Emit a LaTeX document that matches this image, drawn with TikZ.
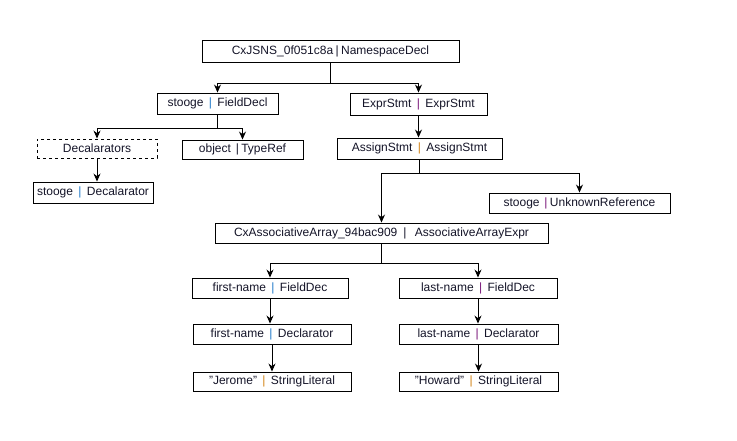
\documentclass[tikz,border=0pt]{standalone}
\usepackage{fontspec}
\setmainfont{Liberation Sans}
\usetikzlibrary{arrows.meta}
\definecolor{barblue}{RGB}{30,120,200}
\definecolor{barorange}{RGB}{210,130,20}
\definecolor{barpurple}{RGB}{120,20,120}
\definecolor{txt}{RGB}{20,20,40}
\begin{document}
\begin{tikzpicture}[x=1pt,y=-1pt,
  box/.style={draw,line width=0.9pt,rectangle,inner sep=0pt,font=\fontsize{12}{14}\selectfont,text=txt},
  dbox/.style={box,dashed},
  conn/.style={line width=0.95pt,-{Stealth[length=8pt,width=7pt]}},
  plain/.style={line width=0.95pt}]
\useasboundingbox (0,0) rectangle (737,441);
\newcommand{\bb}[1]{\hspace{0.45em}\textcolor{#1}{|}\hspace{0.45em}}
\newcommand{\dq}{\symbol{34}}
\node[box,minimum width=257,minimum height=22] (root) at (330.5,51) {CxJSNS\_0f051c8a\hspace{0.2em}|\hspace{0.2em}NamespaceDecl};
\node[box,minimum width=121,minimum height=21] (fd) at (217.5,103.5) {stooge\bb{barblue}FieldDecl};
\node[dbox,minimum width=120,minimum height=19] (dec) at (97,148.5) {Decalarators};
\node[box,minimum width=121,minimum height=19] (tr) at (242.5,149.5) {object\hspace{0.4em}|\hspace{0.2em}TypeRef};
\node[box,minimum width=120,minimum height=21] (sd) at (93,192.5) {stooge\bb{barblue}Decalarator};
\node[box,minimum width=137,minimum height=22] (es) at (418.5,104) {ExprStmt\bb{barpurple}ExprStmt};
\node[box,minimum width=165,minimum height=21] (as) at (419.5,148.5) {AssignStmt\bb{barorange}AssignStmt};
\node[box,minimum width=181,minimum height=20] (ur) at (579.5,203) {stooge\hspace{0.4em}\textcolor{barpurple}{|}\hspace{0.2em}UnknownReference};
\node[box,minimum width=333,minimum height=20] (aa) at (381.5,233) {CxAssociativeArray\_94bac909\hspace{0.5em}|\hspace{0.7em}AssociativeArrayExpr};
\node[box,minimum width=156,minimum height=20] (ffd) at (270,288) {first-name\bb{barblue}FieldDec};
\node[box,minimum width=158,minimum height=20] (lfd) at (478,288) {last-name\bb{barpurple}FieldDec};
\node[box,minimum width=158,minimum height=20] (fdc) at (272,334) {first-name\bb{barblue}Declarator};
\node[box,minimum width=159,minimum height=20] (ldc) at (478.5,334) {last-name\bb{barpurple}Declarator};
\node[box,minimum width=158,minimum height=19] (js) at (272,381.5) {\dq Jerome\dq\bb{barorange}StringLiteral};
\node[box,minimum width=159,minimum height=19] (hs) at (478.5,381.5) {\dq Howard\dq\bb{barorange}StringLiteral};
% root branches
\coordinate (rj) at (root.south |- 0,83);
\draw[plain] (root.south) -- (rj);
\draw[conn] (rj) -| (fd.north);
\draw[conn] (rj) -| (es.north);
% fielddecl branches
\coordinate (fj) at (fd.south |- 0,128);
\draw[plain] (fd.south) -- (fj);
\draw[conn] (fj) -| (dec.north);
\draw[conn] (fj) -| (tr.north);
\draw[conn] (dec.south) -- (dec.south |- sd.north);
\draw[conn] (es.south) -- (es.south |- as.north);
% assign branches
\coordinate (aj) at (as.south |- 0,173);
\draw[plain] (as.south) -- (aj);
\draw[conn] (aj) -| (aa.north);
\draw[conn] (aj) -| (ur.north);
% assoc branches
\coordinate (cj) at (aa.south |- 0,263);
\draw[plain] (aa.south) -- (cj);
\draw[conn] (cj) -| (ffd.north);
\draw[conn] (cj) -| (lfd.north);
\draw[conn] (ffd.south) -- (ffd.south |- fdc.north);
\draw[conn] (lfd.south) -- (lfd.south |- ldc.north);
\draw[conn] (fdc.south) -- (js.north);
\draw[conn] (ldc.south) -- (hs.north);
\end{tikzpicture}
\end{document}
